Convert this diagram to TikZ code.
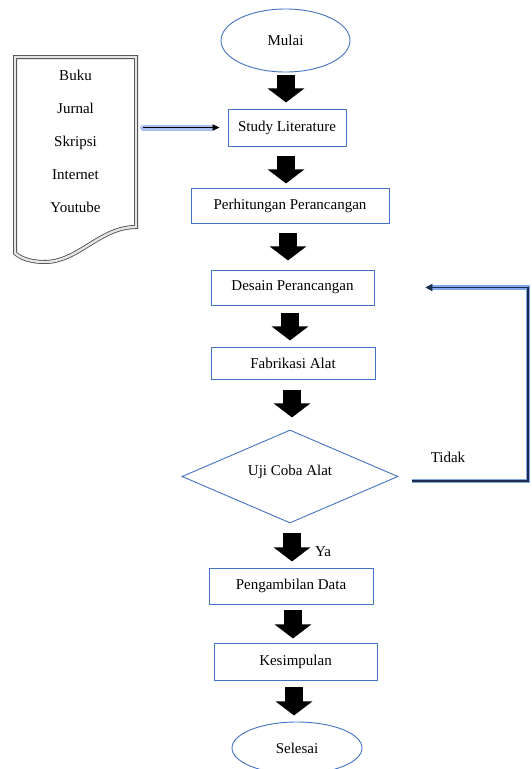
\documentclass[tikz,border=0pt]{standalone}
\usepackage{fontspec}
\setmainfont{Liberation Serif}
\usetikzlibrary{shapes.geometric,arrows.meta,calc}
\definecolor{wblue}{RGB}{68,114,196}
\definecolor{glow}{RGB}{130,165,235}
\begin{document}
\begin{tikzpicture}[x=1pt,y=-1pt,
  every node/.style={font=\fontsize{15}{18}\selectfont},
  procbox/.style={draw=wblue,line width=0.9pt,rectangle,inner sep=0pt},
  term/.style={draw=wblue,line width=0.9pt,ellipse,inner sep=0pt},
  blk/.style={line width=18pt,-{Triangle[width=36pt,length=14pt]}},
  glowline/.style={preaction={draw=glow!70,line width=6pt,line cap=round},draw=black,line width=1pt},
  fbline/.style={preaction={draw=glow,line width=4.5pt},draw=black!60!wblue,line width=1.3pt}]
\useasboundingbox (0,0) rectangle (532,769);
\fill[white] (0,0) rectangle (532,769);

% terminals and boxes
\node[term,minimum width=129pt,minimum height=63pt] (mulai) at (285.5,40.5) {Mulai};
\node[procbox,minimum width=118pt,minimum height=37pt] (study) at (287,127.5) {Study Literature};
\node[procbox,minimum width=198pt,minimum height=35pt] (perh) at (290,205.5) {Perhitungan Perancangan};
\node[procbox,minimum width=163pt,minimum height=35pt] (desain) at (292.5,287.5) {Desain Perancangan};
\node[procbox,minimum width=164pt,minimum height=32pt] (fab) at (293,363) {Fabrikasi Alat};
\node[draw=wblue,line width=0.9pt,diamond,inner sep=0pt,shape aspect=2.3,minimum width=216pt,minimum height=93pt] (dia) at (290,476.5) {};
\node (diatext) at (290,472) {Uji Coba Alat};
\node[procbox,minimum width=164pt,minimum height=36pt] (peng) at (291,586) {Pengambilan Data};
\node[procbox,minimum width=163pt,minimum height=37pt] (kes) at (295.5,661.5) {Kesimpulan};
\node[term,minimum width=130pt,minimum height=52pt] (selesai) at (297,748) {Selesai};

% document shape
\draw[draw=gray!55!black,double=gray!20,double distance=2.4pt,line width=0.8pt]
  (15,57) -- (136,57) -- (136,227)
  .. controls (100,227) and (78,262) .. (45,262)
  .. controls (30,262) and (20,258) .. (15,253) -- cycle;
\node[align=center,font=\fontsize{15}{33}\selectfont,minimum width=121pt] (doc) at (75.5,141)
  {Buku\\Jurnal\\Skripsi\\Internet\\Youtube};

% block arrows
\draw[blk] ([xshift=0.5pt,yshift=-3pt]mulai.south) -- ++(0,27);
\draw[blk] ([xshift=-1pt,yshift=-10pt]study.south) -- ++(0,27);
\draw[blk] ([xshift=-2pt,yshift=-10pt]perh.south) -- ++(0,27);
\draw[blk] ([xshift=-2.5pt,yshift=-8pt]desain.south) -- ++(0,27);
\draw[blk] ([xshift=-1pt,yshift=-11pt]fab.south) -- ++(0,27);
\draw[blk] ([xshift=2pt,yshift=-10pt]dia.south) -- ++(0,28);
\draw[blk] ([xshift=2pt,yshift=-6pt]peng.south) -- ++(0,28);
\draw[blk] ([xshift=-1.5pt,yshift=-7pt]kes.south) -- ++(0,28);

\node (ya) at (323,552) {Ya};

% source arrow
\draw[glowline,-{Triangle[width=6pt,length=7pt]}] ([xshift=7pt]doc.east |- study.west) -- ([xshift=-8pt]study.west);

% feedback loop
\coordinate (fbs) at ([xshift=14pt,yshift=-4.5pt]dia.east);
\coordinate (fbc) at (528,287.5);
\draw[fbline,-{Triangle[width=7pt,length=7pt]}] (fbs) -| (fbc) -- ([xshift=51pt]desain.east);
\node (tidak) at (448,457) {Tidak};
\end{tikzpicture}
\end{document}
